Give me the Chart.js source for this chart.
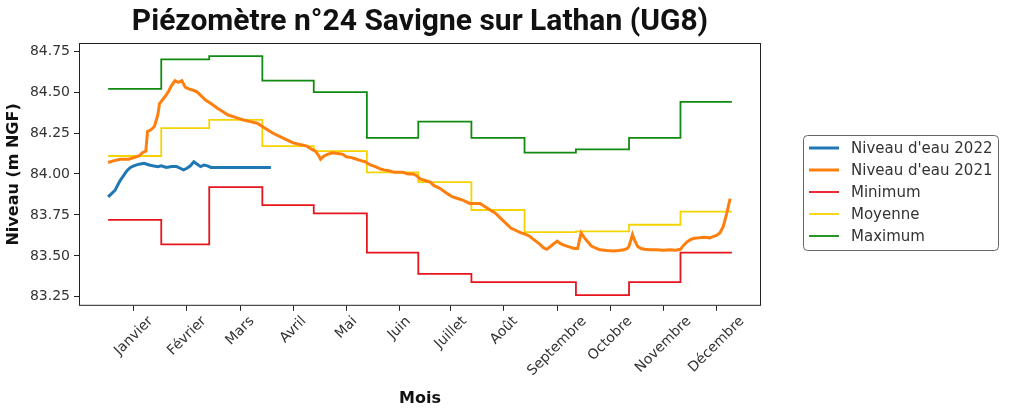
<!DOCTYPE html>
<html>
<head>
<meta charset="utf-8">
<script src="https://cdn.jsdelivr.net/npm/chart.js@4"></script>
<style>
  html, body { margin: 0; padding: 0; background: #fff; }
  #wrap { width: 1018px; height: 411px; }
</style>
</head>
<body>
<div id="wrap"><canvas id="chart" width="1018" height="411"></canvas></div>
<script>
/* ===== DATA ===== */
const monthLabels = ['Janvier', 'Février', 'Mars', 'Avril', 'Mai', 'Juin', 'Juillet', 'Août',
  'Septembre', 'Octobre', 'Novembre', 'Décembre'];
const tickDays = [15, 46, 77, 108, 139, 170, 200, 231, 262, 293, 324, 355];
const yTicks = [83.25, 83.50, 83.75, 84.00, 84.25, 84.50, 84.75];

// monthly statistics (step lines), one value per month start
const monthStartDays = [0, 31, 59, 90, 120, 151, 181, 212, 243, 273, 304, 334];
const lastDay = 364;
const minVals  = [83.72, 83.57, 83.92, 83.81, 83.76, 83.52, 83.39, 83.34, 83.34, 83.26, 83.34, 83.52];
const meanVals = [84.11, 84.28, 84.33, 84.17, 84.14, 84.01, 83.95, 83.78, 83.645, 83.65, 83.69, 83.77];
const maxVals  = [84.52, 84.70, 84.72, 84.57, 84.50, 84.22, 84.32, 84.22, 84.13, 84.15, 84.22, 84.44];

// 2021 water level (day of year / m NGF)
const days2021 = [0, 3, 7, 12, 15, 18, 20, 22, 23, 25, 27, 29, 30, 33, 35, 37, 39, 41, 43, 45, 47, 50, 52, 54, 57,
  60, 64, 67, 70, 73, 76, 79, 83, 87, 90, 93, 96, 100, 104, 108, 112, 116, 119, 121, 123, 124, 126, 128,
  131, 134, 137, 139, 142, 145, 148, 150, 153, 156, 159, 161, 164, 167, 170, 172, 175, 178, 180, 182,
  185, 188, 190, 194, 198, 201, 204, 207, 211, 214, 217, 220, 223, 226, 229, 232, 235, 238, 241, 244,
  246, 249, 252, 254, 256, 259, 262, 264, 266, 269, 272, 274, 276, 278, 280, 282, 285, 287, 291, 295,
  298, 301, 303, 304, 306, 307, 309, 311, 313, 316, 320, 324, 328, 331, 334, 336, 338, 340, 342, 345,
  348, 351, 353, 355, 357, 359, 361, 363];
const level2021 = [84.07, 84.08, 84.09, 84.09, 84.10, 84.11, 84.13, 84.14, 84.26, 84.27, 84.29, 84.36, 84.43,
  84.47, 84.50, 84.54, 84.57, 84.56, 84.57, 84.53, 84.52, 84.51, 84.50, 84.48, 84.45,
  84.43, 84.40, 84.38, 84.36, 84.35, 84.34, 84.33, 84.32, 84.31, 84.29, 84.27, 84.25, 84.23, 84.21, 84.19,
  84.18, 84.17, 84.15, 84.14, 84.11, 84.09, 84.11, 84.12,
  84.13, 84.125, 84.12, 84.105, 84.10, 84.09, 84.08, 84.075, 84.055, 84.045, 84.03, 84.025, 84.02, 84.01,
  84.01, 84.01, 84.00, 84.00, 83.99, 83.97,
  83.96, 83.95, 83.93, 83.91, 83.88, 83.86, 83.85, 83.84, 83.82, 83.82, 83.82, 83.80, 83.78, 83.76, 83.73,
  83.70, 83.67, 83.655, 83.64, 83.63,
  83.62, 83.595, 83.57, 83.55, 83.54, 83.565, 83.59, 83.575, 83.565, 83.555, 83.545, 83.545, 83.64, 83.61,
  83.585, 83.56, 83.545, 83.537, 83.533, 83.53,
  83.533, 83.537, 83.545, 83.56, 83.63, 83.60, 83.557, 83.545, 83.54, 83.537, 83.537, 83.535, 83.537,
  83.535, 83.54, 83.567, 83.587, 83.60, 83.607, 83.61,
  83.614, 83.61, 83.617, 83.625, 83.64, 83.68, 83.76, 83.85];

// 2022 water level
const days2022 = [0, 2, 4, 6, 7, 9, 11, 13, 15, 18, 21, 24, 26, 29, 31, 34, 37, 40, 42, 44, 46, 48, 50, 52,
  54, 56, 58, 60, 62, 70, 80, 95];
const level2022 = [83.86, 83.88, 83.90, 83.94, 83.96, 83.99, 84.02, 84.04, 84.05, 84.06, 84.065, 84.055,
  84.05, 84.045, 84.05, 84.04, 84.045, 84.045, 84.035, 84.025, 84.035, 84.05, 84.075, 84.06,
  84.045, 84.055, 84.05, 84.04, 84.04, 84.04, 84.04, 84.04];

/* ===== HELPERS ===== */
const toPoints = (xs, ys) => xs.map((d, i) => ({ x: d, y: ys[i] }));
const stepPoints = vals => monthStartDays.map((d, i) => ({ x: d, y: vals[i] }))
  .concat([{ x: lastDay, y: vals[vals.length - 1] }]);

const FRAME = '#222';
const TXT = '#333';

/* ===== PLUGIN: frame, month labels, legend ===== */
const decorations = {
  id: 'decorations',
  afterDraw(chart) {
    const { ctx, chartArea: a } = chart;
    const x = chart.scales.x;
    ctx.save();

    // axes frame
    ctx.strokeStyle = FRAME;
    ctx.lineWidth = 1;
    ctx.strokeRect(a.left + 0.5, a.top + 0.5, a.right - a.left - 1, a.bottom - a.top - 1);

    // rotated month labels, centred under each tick
    ctx.font = '14px "DejaVu Sans"';
    ctx.fillStyle = TXT;
    ctx.textAlign = 'center';
    ctx.textBaseline = 'middle';
    x.ticks.forEach((t, i) => {
      const px = x.getPixelForValue(t.value);
      const w = ctx.measureText(monthLabels[i]).width;
      const bh = (w + 12) * Math.SQRT1_2;
      ctx.save();
      ctx.translate(px, a.bottom + 9 + bh / 2);
      ctx.rotate(-Math.PI / 4);
      ctx.fillText(monthLabels[i], 0, 0);
      ctx.restore();
    });

    // legend box
    const lx = 803, ly = 135, lw = 195, lh = 115;
    ctx.beginPath();
    ctx.roundRect(lx + 0.5, ly + 0.5, lw, lh, 4);
    ctx.fillStyle = '#fff';
    ctx.fill();
    ctx.strokeStyle = '#666';
    ctx.lineWidth = 1;
    ctx.stroke();
    ctx.font = '15px "DejaVu Sans"';
    ctx.textAlign = 'left';
    chart.data.datasets.forEach((ds, i) => {
      const y = ly + 13 + i * 22;
      ctx.beginPath();
      ctx.strokeStyle = ds.borderColor;
      ctx.lineWidth = ds.borderWidth;
      ctx.moveTo(lx + 6, y);
      ctx.lineTo(lx + 36, y);
      ctx.stroke();
      ctx.fillStyle = TXT;
      ctx.fillText(ds.label, lx + 48, y + 1);
    });
    ctx.restore();
  }
};

/* ===== CHART ===== */
new Chart(document.getElementById('chart'), {
  type: 'line',
  data: {
    datasets: [
      { label: "Niveau d'eau 2022", data: toPoints(days2022, level2022), borderColor: '#1f77b4', borderWidth: 3 },
      { label: "Niveau d'eau 2021", data: toPoints(days2021, level2021), borderColor: '#ff7f0e', borderWidth: 3 },
      { label: 'Minimum', data: stepPoints(minVals), borderColor: '#e8141c', borderWidth: 1.8, stepped: 'before' },
      { label: 'Moyenne', data: stepPoints(meanVals), borderColor: '#f5d300', borderWidth: 1.8, stepped: 'before' },
      { label: 'Maximum', data: stepPoints(maxVals), borderColor: '#118a11', borderWidth: 1.8, stepped: 'before' },
    ]
  },
  options: {
    responsive: false,
    animation: false,
    devicePixelRatio: 1,
    layout: { padding: { left: 0, right: 257, top: 0, bottom: 0 } },
    elements: { point: { radius: 0 }, line: { tension: 0, fill: false } },
    plugins: {
      legend: { display: false },
      tooltip: { enabled: false },
      title: {
        display: true,
        text: 'Piézomètre n°24 Savigne sur Lathan (UG8)',
        fullSize: false,
        color: '#111',
        font: { family: 'Roboto', size: 30, weight: 'bold', lineHeight: 1.2 },
        padding: { top: 4, bottom: 3 }
      }
    },
    scales: {
      x: {
        type: 'linear',
        min: -17, max: 381,
        afterBuildTicks: s => { s.ticks = tickDays.map(v => ({ value: v })); },
        ticks: { display: false },
        grid: { drawOnChartArea: false, drawTicks: true, tickLength: 5, color: FRAME },
        border: { display: false },
        title: {
          display: true, text: 'Mois', color: '#111',
          font: { family: 'DejaVu Sans', size: 16, weight: 'bold', lineHeight: 1.2 },
          padding: { top: 78, bottom: 3 }
        }
      },
      y: {
        min: 83.195, max: 84.80,
        afterBuildTicks: s => { s.ticks = yTicks.map(v => ({ value: v })); },
        afterFit: s => { s.width = 79; },
        ticks: {
          color: TXT, padding: 4,
          font: { family: 'DejaVu Sans', size: 14 },
          callback: v => v.toFixed(2)
        },
        grid: { drawOnChartArea: false, drawTicks: true, tickLength: 5, color: FRAME },
        border: { display: false },
        title: {
          display: true, text: 'Niveau (m NGF)', color: '#111',
          font: { family: 'DejaVu Sans', size: 16, weight: 'bold', lineHeight: 1.2 },
          padding: { top: 4, bottom: 0 }
        }
      }
    }
  },
  plugins: [decorations]
});
</script>
</body>
</html>
